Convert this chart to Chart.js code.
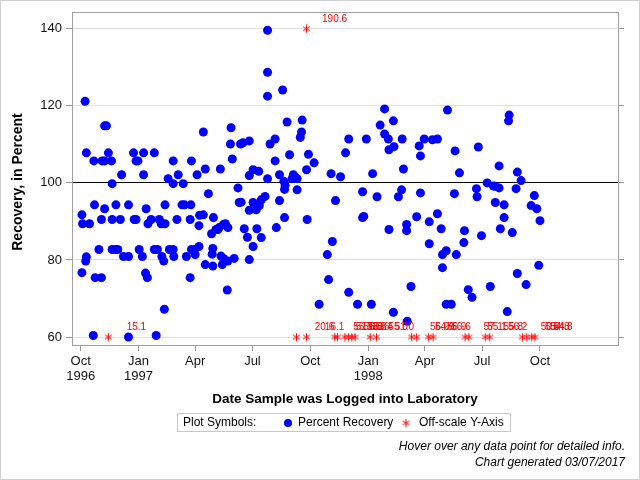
<!DOCTYPE html>
<html><head><meta charset="utf-8">
<script src="https://cdn.jsdelivr.net/npm/chart.js@4.4.1/dist/chart.umd.min.js"></script>
<style>html,body{margin:0;padding:0;background:#fff;}canvas{display:block;}</style>
</head><body>
<canvas id="c" width="640" height="480"></canvas>
<script>
// Days since 1 Oct 1996 on which each sample was logged
const recoveryDays = [
 2,3,2,7,9,9,8,14,20,21,
 22,23,29,33,34,38,38,41,38,33,
 44,49,50,50,50,55,56,59,63,65,
 68,76,76,76,84,85,88,88,91,93,
 98,100,100,103,104,106,107,112,117,117,
 120,122,125,128,129,132,133,134,134,139,
 141,147,147,147,148,153,155,161,163,165,
 168,174,174,175,176,176,181,182,185,188,
 189,188,195,195,198,198,203,208,210,209,
 210,211,215,218,220,222,223,225,227,227,
 230,233,234,234,238,239,241,244,250,252,
 254,255,258,260,265,268,268,268,268,274,
 274,274,279,280,
 283,284,287,287,293,
 297,297,297,297,301,309,309,311,316,316,
 321,323,325,324,324,328,332,336,338,341,
 344,344,349,351,352,359,360,362,371,379,
 392,394,398,400,405,413,421,426,426,440,
 448,448,450,454,462,464,471,476,483,483,
 489,490,490,497,497,498,505,510,511,513,
 518,518,519,525,534,538,540,540,546,554,
 554,559,567,567,573,575,575,581,581,583,
 589,594,595,597,602,610,609,616,622,629,
 630,632,637,646,651,656,659,659,665,665,
 667,673,673,678,680,681,686,692,694,694,
 700,708,716,721,725,728,730
];
const recoveryValues = [
 91.7,89.4,76.7,121.2,107.8,80.8,79.7,89.4,60.4,105.7,
 94.3,75.4,82.7,90.5,105.7,105.7,114.8,114.8,93.3,75.4,
 107.8,105.7,99.8,90.5,82.7,82.7,94.3,82.7,90.5,102.1,
 80.9,94.3,80.9,60.0,107.8,90.5,90.5,105.7,105.7,82.7,
 80.9,107.8,102.1,76.6,93.3,75.4,89.4,90.5,107.8,82.7,
 60.4,82.7,90.5,89.4,80.9,79.7,67.2,89.4,94.3,101.1,
 82.7,105.7,99.8,82.7,80.9,90.5,102.1,94.3,99.8,94.3,
 80.9,90.5,75.4,94.3,105.7,82.7,82.7,81.4,102.1,88.9,
 91.6,83.5,113.2,91.7,103.6,78.8,97.2,86.8,83.0,81.5,
 78.4,91.0,87.9,87.9,88.4,103.6,81.0,78.8,89.2,80.4,
 89.4,72.2,88.4,79.7,110.1,114.3,106.2,80.4,98.7,94.9,
 110.1,95.0,110.4,88.1,85.9,110.9,101.9,92.9,80.1,103.4,
 94.9,83.5,93.0,88.1,
 103.0,94.1,95.6,85.8,96.5,
 139.6,128.7,122.5,101.1,110.1,111.4,105.7,88.4,102.1,95.4,
 124.1,100.4,99.3,98.3,91.0,115.8,107.3,101.1,102.1,101.5,
 101.1,98.2,111.8,113.2,116.3,103.4,90.5,107.4,105.2,68.5,
 81.4,74.9,102.4,84.8,95.4,101.6,107.8,111.4,71.6,68.5,
 97.7,91.0,91.3,111.4,68.5,102.4,96.4,115.0,119.2,112.7,
 111.4,108.6,87.9,116.1,66.4,109.4,96.4,98.2,111.4,103.6,
 89.2,87.6,64.1,73.1,91.2,109.6,107.0,97.4,111.4,89.9,
 84.2,111.2,111.4,92.0,88.1,81.4,78.0,68.5,82.4,118.9,
 68.5,97.2,108.3,81.4,102.6,87.6,84.5,72.3,70.3,98.5,
 96.4,109.3,86.3,100.0,73.1,99.2,99.1,94.9,104.4,98.7,
 88.1,94.3,91.0,66.6,116.1,117.6,87.1,98.5,102.8,76.5,
 100.6,73.6,94.1,96.7,93.3,78.6,90.2
];
// Off-scale samples (actual recovery values outside the plotted range)
const offscaleDays = [44,343,359,359,404,408,420,426,431,436,460,470,526,534,553,560,611,617,643,650,702,709,717,722];
const offscaleValues = [15.1,20.6,16.1,190.6,55.1,51.6,56.8,53.8,55.6,53.4,55.0,51.0,56.9,54.6,56.9,56.6,57.1,55.1,55.8,56.2,50.8,55.4,54.8,54.8];

const xTickDays = [0,92,182,273,365,457,547,638,730];
const xTickLabels = [['Oct','1996'],['Jan','1997'],['Apr'],['Jul'],['Oct'],['Jan','1998'],['Apr'],['Jul'],['Oct']];
const yTickValues = [60,80,100,120,140];
const targetRecovery = 100;

const X_MIN = -13.8, X_MAX = 854, Y_MIN = 57.93, Y_MAX = 144.4;
const FONT = '"Liberation Sans", Arial, sans-serif';

function makeAsterisk(size, color) {
  const c = document.createElement('canvas');
  c.width = size; c.height = size;
  const g = c.getContext('2d');
  g.strokeStyle = color; g.lineWidth = 1;
  const cx = size / 2, cy = size / 2, r = size / 2 - 0.5;
  for (let k = 0; k < 3; k++) {
    const a = Math.PI / 2 + k * Math.PI / 3;
    g.beginPath();
    g.moveTo(cx + r * Math.cos(a), cy + r * Math.sin(a));
    g.lineTo(cx - r * Math.cos(a), cy - r * Math.sin(a));
    g.stroke();
  }
  return c;
}
const asterisk = makeAsterisk(9, '#ff0000');

const recoveryPoints = recoveryDays.map((d, i) => ({ x: d, y: recoveryValues[i] }));
const offscalePoints = offscaleDays.map((d, i) => ({
  x: d,
  y: offscaleValues[i] < Y_MIN ? yTickValues[0] : (offscaleValues[i] > Y_MAX ? yTickValues[yTickValues.length - 1] : offscaleValues[i])
}));

const decor = {
  id: 'decor',
  beforeDraw(chart) {
    const ctx = chart.ctx;
    ctx.save(); ctx.fillStyle = '#fff'; ctx.fillRect(0, 0, 640, 480); ctx.restore();
  },
  afterDatasetsDraw(chart) {
    const ctx = chart.ctx;
    const meta = chart.getDatasetMeta(1);
    ctx.save();
    ctx.fillStyle = '#ff0000';
    ctx.font = '10px ' + FONT;
    ctx.textAlign = 'center'; ctx.textBaseline = 'middle';
    meta.data.forEach((el, i) => {
      ctx.fillText(offscaleValues[i].toFixed(1), el.x + 28, el.y - 10);
    });
    ctx.restore();
  },
  afterDraw(chart) {
    const ctx = chart.ctx, a = chart.chartArea;
    ctx.save();
    // outer frame
    ctx.strokeStyle = '#d0d0d0'; ctx.lineWidth = 1;
    ctx.strokeRect(0.5, 0.5, 639, 479);
    // plot frame
    ctx.strokeStyle = '#a0a0a0';
    ctx.strokeRect(Math.round(a.left) + 0.5, Math.round(a.top) + 0.5, Math.round(a.right - a.left), Math.round(a.bottom - a.top));
    // axis titles
    ctx.fillStyle = '#000';
    ctx.font = 'bold 13.5px ' + FONT;
    ctx.textAlign = 'center'; ctx.textBaseline = 'middle';
    ctx.fillText('Date Sample was Logged into Laboratory', (a.left + a.right) / 2, 399);
    ctx.font = 'bold 14px ' + FONT;
    ctx.save();
    ctx.translate(18, 182); ctx.rotate(-Math.PI / 2);
    ctx.fillText('Recovery, in Percent', 0, 0);
    ctx.restore();
    // legend
    ctx.strokeStyle = '#c8c8c8';
    ctx.strokeRect(177.5, 413.5, 333, 18);
    ctx.font = '12px ' + FONT; ctx.textAlign = 'left'; ctx.fillStyle = '#000';
    ctx.fillText('Plot Symbols:', 183, 423);
    ctx.fillStyle = '#0000ff';
    ctx.beginPath(); ctx.arc(288, 423, 4, 0, Math.PI * 2); ctx.fill();
    ctx.fillStyle = '#000';
    ctx.fillText('Percent Recovery', 298, 423);
    ctx.drawImage(asterisk, 406 - 4.5, 423 - 4.5);
    ctx.fillText('Off-scale Y-Axis', 419, 423);
    // footnotes
    ctx.font = 'italic 12px ' + FONT; ctx.textAlign = 'right';
    ctx.fillText('Hover over any data point for detailed info.', 625, 447);
    ctx.fillText('Chart generated 03/07/2017', 625, 463);
    ctx.restore();
  }
};

new Chart(document.getElementById('c'), {
  type: 'scatter',
  data: {
    datasets: [
      { label: 'Percent Recovery', data: recoveryPoints, backgroundColor: '#0000ff', borderWidth: 0, pointRadius: 4.5, pointHoverRadius: 4.5 },
      { label: 'Off-scale Y-Axis', data: offscalePoints, pointStyle: asterisk, pointRadius: 4.5, backgroundColor: '#ff0000', borderColor: '#ff0000' }
    ]
  },
  options: {
    responsive: false,
    animation: false,
    devicePixelRatio: 1,
    layout: { padding: { top: 11, left: 0, right: 0, bottom: 0 } },
    plugins: { legend: { display: false }, tooltip: { enabled: true } },
    scales: {
      x: {
        type: 'linear', position: 'bottom', min: X_MIN, max: X_MAX,
        afterFit(s) { s.height = 135; },
        afterBuildTicks(s) { s.ticks = xTickDays.map(v => ({ value: v })); },
        ticks: {
          autoSkip: false, maxRotation: 0, minRotation: 0, padding: 3, color: '#111',
          font: { family: FONT, size: 13, lineHeight: 1.15 },
          callback: (v) => { const i = xTickDays.indexOf(v); return i >= 0 ? xTickLabels[i] : ''; }
        },
        grid: { drawOnChartArea: false, drawTicks: true, tickLength: 6, tickColor: '#999' },
        border: { display: false }
      },
      y: {
        type: 'linear', position: 'left', min: Y_MIN, max: Y_MAX,
        afterFit(s) { s.width = 72; },
        afterBuildTicks(s) { s.ticks = yTickValues.map(v => ({ value: v })); },
        ticks: { padding: 4, color: '#111', font: { family: FONT, size: 13 } },
        grid: {
          color: (c) => (c.tick && c.tick.value === targetRecovery) ? '#000' : '#e0e0e0',
          tickColor: '#999', tickLength: 6, lineWidth: 1
        },
        border: { display: false }
      },
      y2: {
        type: 'linear', position: 'right', min: Y_MIN, max: Y_MAX,
        afterFit(s) { s.width = 22; },
        afterBuildTicks(s) { s.ticks = yTickValues.map(v => ({ value: v })); },
        ticks: { display: false },
        grid: { drawOnChartArea: false, drawTicks: true, tickLength: 6, tickColor: '#999' },
        border: { display: false }
      }
    }
  },
  plugins: [decor]
});
</script>
</body></html>
